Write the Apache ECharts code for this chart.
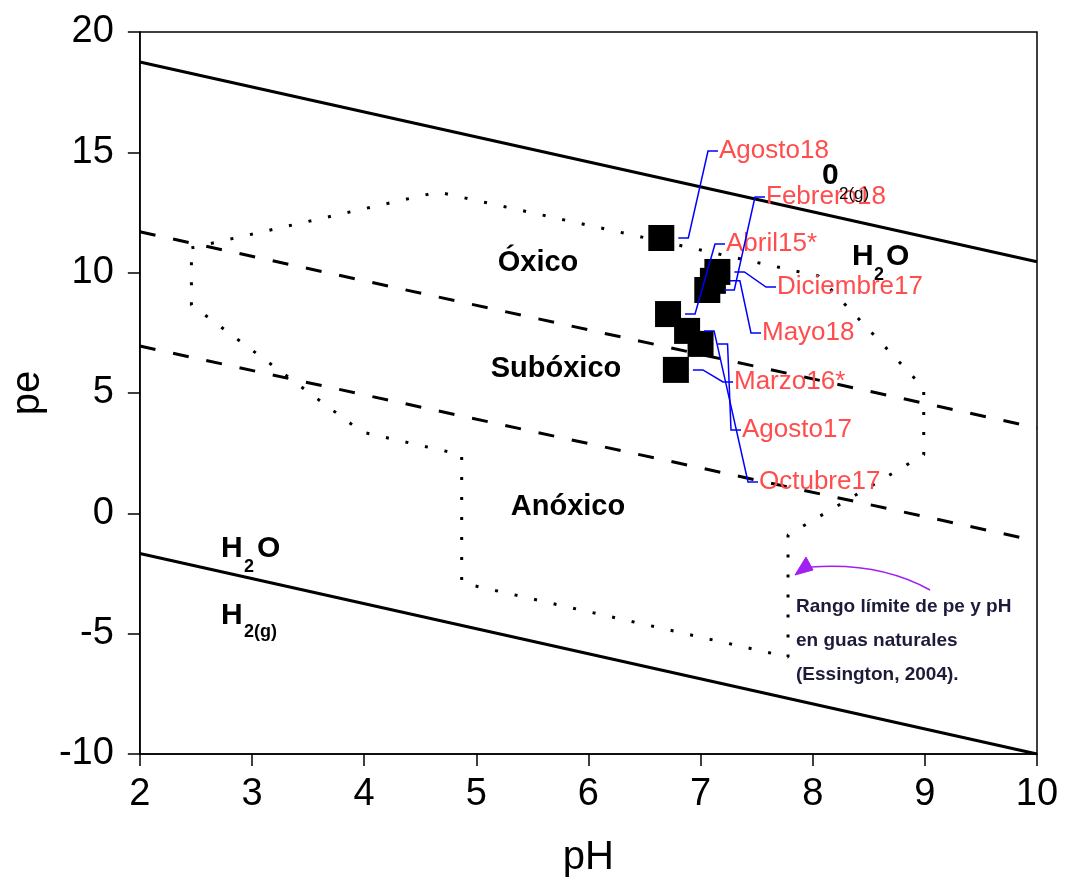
<!DOCTYPE html>
<html><head><meta charset="utf-8">
<script src="https://cdn.jsdelivr.net/npm/echarts@6/dist/echarts.min.js"></script>
<style>html,body{margin:0;padding:0;background:#fff}#c{width:1065px;height:888px}</style>
</head><body><div id="c"></div>
<script>
// ---------- data ----------
const sampleNames = ['Agosto18','Diciembre17','Mayo18','Febrero18','Abril15*','Octubre17','Agosto17','Marzo16*'];
const samplePH = [6.65, 7.15, 7.11, 7.06, 6.71, 6.88, 7.00, 6.78];
const samplePE = [11.44, 10.03, 9.66, 9.28, 8.28, 7.58, 7.04, 5.96];

const o2Line = [[2, 18.75], [10, 10.45]];
const h2Line = [[2, -1.67], [10, -10]];
const oxicBoundary = [[2, 11.7], [10, 3.55]];
const anoxicBoundary = [[2, 6.95], [10, -1.15]];

const rangePH = [2.46, 4.66, 8.05, 8.99, 8.99, 7.78, 7.78, 4.87, 4.87, 3.98, 2.46, 2.46];
const rangePE = [11.03, 13.35, 9.86, 5.21, 2.43, -0.90, -5.97, -2.89, 2.43, 3.38, 8.66, 11.03];

const xTicks = [2, 3, 4, 5, 6, 7, 8, 9, 10];
const yTicks = [-10, -5, 0, 5, 10, 15, 20];

// ---------- styling (pixel positions of annotation labels) ----------
const labelPos = [[719,151],[777,287],[762,333],[766,197],[726,244],[759,482],[742,430],[734,382]];
const FONT = "'Liberation Sans', Arial, sans-serif";
const SQ = 26;

const chart = echarts.init(document.getElementById('c'), null, {renderer: 'canvas'});

function lineSeries(data, type, width) {
  return {
    type: 'line', data: data, showSymbol: false, symbol: 'none', silent: true,
    lineStyle: {color: '#000', width: width, type: type, cap: 'butt'}, z: 1, animation: false
  };
}

chart.setOption({
  animation: false,
  backgroundColor: '#fff',
  grid: {left: 138, top: 32, right: 28, bottom: 134, show: true, borderColor: '#000', borderWidth: 1.5, backgroundColor: 'transparent'},
  xAxis: {
    type: 'value', min: xTicks[0], max: xTicks[xTicks.length - 1], interval: 1,
    name: 'pH', nameLocation: 'middle', nameGap: 84,
    nameTextStyle: {fontSize: 40, color: '#000', fontFamily: FONT},
    axisLine: {show: true, onZero: false, lineStyle: {color: '#000', width: 1.5}},
    axisTick: {show: true, inside: false, length: 12, lineStyle: {color: '#000', width: 1.5}},
    axisLabel: {fontSize: 38, color: '#000', fontFamily: FONT, margin: 22},
    splitLine: {show: false}
  },
  yAxis: {
    type: 'value', min: yTicks[0], max: yTicks[yTicks.length - 1], interval: 5,
    name: 'pe', nameLocation: 'middle', nameGap: 88,
    nameTextStyle: {fontSize: 40, color: '#000', fontFamily: FONT},
    axisLine: {show: true, onZero: false, lineStyle: {color: '#000', width: 1.5}},
    axisTick: {show: true, inside: false, length: 12, lineStyle: {color: '#000', width: 1.5}},
    axisLabel: {fontSize: 38, color: '#000', fontFamily: FONT, margin: 26},
    splitLine: {show: false}
  },
  series: [
    lineSeries(o2Line, 'solid', 3),
    lineSeries(h2Line, 'solid', 3),
    lineSeries(oxicBoundary, [16, 18], 3),
    lineSeries(anoxicBoundary, [16, 18], 3),
    lineSeries(rangePH.map((x, i) => [x, rangePE[i]]), [3, 17], 3),
    {
      type: 'scatter', symbol: 'rect', symbolSize: SQ, z: 3,
      itemStyle: {color: '#000', opacity: 1},
      data: sampleNames.map((n, i) => ({name: n, value: [samplePH[i], samplePE[i]]})),
      label: {show: true, formatter: '{b}', color: '#ff4d4d', fontSize: 26, fontFamily: FONT},
      labelLayout: function (p) {
        const pos = labelPos[p.dataIndex];
        return {x: pos[0], y: pos[1], align: 'left', verticalAlign: 'middle'};
      }
    }
  ]
});

// leader lines from each square to its label
const leaders = sampleNames.map((n, i) => {
  const pt = chart.convertToPixel({gridIndex: 0}, [samplePH[i], samplePE[i]]);
  const lx = labelPos[i][0], ly = labelPos[i][1];
  const ex = pt[0] + SQ / 2 + 4;
  return {
    type: 'polyline', z: 100, silent: true,
    shape: {points: [[lx - 1, ly], [lx - 11, ly], [ex + 10, pt[1]], [ex, pt[1]]]},
    style: {stroke: '#0000ff', lineWidth: 1.5, fill: null}
  };
});

function txt(text, x, y, size, weight, align, color) {
  return {
    type: 'text', z: 100, silent: true, x: x, y: y,
    style: {text: text, font: (weight || 'normal') + ' ' + size + 'px ' + FONT, fill: color || '#000',
      align: align || 'left', verticalAlign: 'middle', textAlign: align || 'left', textVerticalAlign: 'middle'}
  };
}

const texts = [
  txt('Óxico', 538, 263, 29, 'bold', 'center'),
  txt('Subóxico', 556, 369, 29, 'bold', 'center'),
  txt('Anóxico', 568, 507, 29, 'bold', 'center'),
  // H2O / H2(g) lower
  txt('H', 221, 549, 30, 'bold'),
  txt('2', 244, 567, 18, 'bold'),
  txt('O', 257, 549, 30, 'bold'),
  txt('H', 221, 616, 30, 'bold'),
  txt('2(g)', 244, 632, 18, 'bold'),
  // O2(g) / H2O upper
  txt('0', 822, 176, 30, 'bold'),
  txt('2(g)', 839, 194, 17, 'normal'),
  txt('H', 852, 257, 30, 'bold'),
  txt('2', 874, 275, 18, 'bold'),
  txt('O', 886, 257, 30, 'bold'),
  // annotation
  txt('Rango límite de pe y pH', 796, 607, 19, 'bold', 'left', '#1c1c3a'),
  txt('en guas naturales', 796, 641, 19, 'bold', 'left', '#1c1c3a'),
  txt('(Essington, 2004).', 796, 675, 19, 'bold', 'left', '#1c1c3a')
];

const arrow = [
  {type: 'bezierCurve', z: 100, silent: true,
    shape: {x1: 930, y1: 590, x2: 811, y2: 567, cpx1: 880, cpy1: 562},
    style: {stroke: '#a020f0', lineWidth: 1.5, fill: null}},
  {type: 'polygon', z: 100, silent: true,
    shape: {points: [[795, 575], [806, 557], [813, 570]]},
    style: {fill: '#a020f0', stroke: '#a020f0', lineWidth: 1}}
];

chart.setOption({graphic: {elements: leaders.concat(texts, arrow)}});
</script></body></html>
